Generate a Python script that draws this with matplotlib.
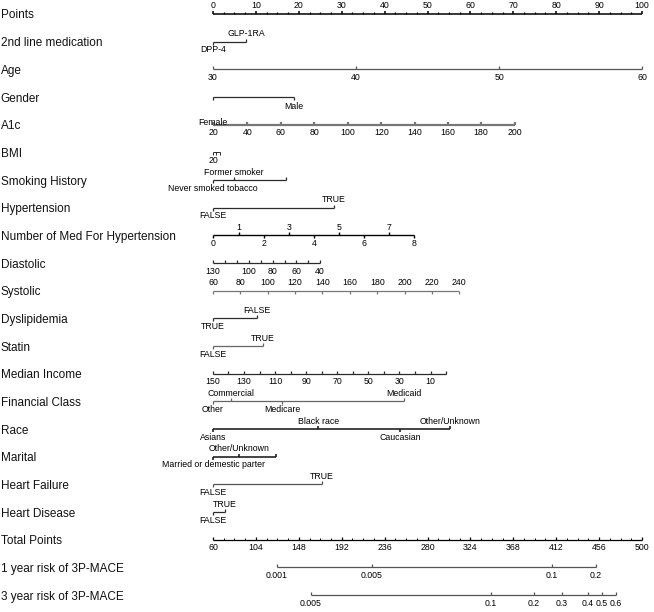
import numpy as np
import matplotlib.pyplot as plt

plt.rcParams['font.family'] = ['Liberation Sans', 'DejaVu Sans']

# row titles, top to bottom
row_names = ['Points', '2nd line medication', 'Age', 'Gender', 'A1c', 'BMI',
             'Smoking History', 'Hypertension', 'Number of Med For Hypertension',
             'Diastolic', 'Systolic', 'Dyslipidemia', 'Statin', 'Median Income',
             'Financial Class', 'Race', 'Marital', 'Heart Failure', 'Heart Disease',
             'Total Points', '1 year risk of 3P-MACE', '3 year risk of 3P-MACE']

# points scale
points_ticks = list(range(0, 101, 10))

# categorical predictors: levels and their points
med2_levels = ['DPP-4', 'GLP-1RA']
med2_pts = [0, 7.7]
gender_levels = ['Female', 'Male']
gender_pts = [0, 18.9]
smoke_levels = ['Never smoked tobacco', 'Former smoker', '']
smoke_pts = [0, 4.9, 17.0]
htn_levels = ['FALSE', 'TRUE']
htn_pts = [0, 28.2]
dys_levels = ['TRUE', 'FALSE']
dys_pts = [0, 10.2]
statin_levels = ['FALSE', 'TRUE']
statin_pts = [0, 11.7]
fin_levels = ['Other', 'Commercial', 'Medicare', 'Medicaid']
fin_pts = [0, 4.2, 16.1, 44.5]
race_levels = ['Asians', 'Black race', 'Caucasian', 'Other/Unknown']
race_pts = [0, 24.5, 43.6, 55.2]
marital_levels = ['Married or demestic parter', 'Other/Unknown', '']
marital_pts = [0, 6.1, 14.7]
hf_levels = ['FALSE', 'TRUE']
hf_pts = [0, 25.4]
hd_levels = ['FALSE', 'TRUE']
hd_pts = [0, 2.8]

# continuous predictors: tick values, their points, shown labels
age_vals = [30, 40, 50, 60]
age_pts = [0, 33.3, 66.7, 100]
a1c_vals = [20, 40, 60, 80, 100, 120, 140, 160, 180, 200]
a1c_pts = [0, 8.0, 15.8, 23.6, 31.5, 39.2, 47.1, 54.7, 62.5, 70.4]
bmi_vals = [20, 30, 40]
bmi_pts = [0, 0.8, 1.6]
bmi_labels = ['20', '', '']
nmed_vals = [0, 1, 2, 3, 4, 5, 6, 7, 8]
nmed_pts = [0, 6.1, 11.9, 17.8, 23.5, 29.4, 35.2, 41.0, 46.9]
dia_vals = [130, 120, 110, 100, 90, 80, 70, 60, 50, 40]
dia_pts = [0, 2.8, 5.5, 8.3, 11.1, 13.9, 16.7, 19.4, 22.2, 24.9]
dia_labels = ['130', '', '', '100', '', '80', '', '60', '', '40']
sys_vals = [60, 80, 100, 120, 140, 160, 180, 200, 220, 240]
sys_pts = [0, 6.4, 12.8, 19.1, 25.5, 31.9, 38.3, 44.7, 51.0, 57.4]
inc_vals = [150, 140, 130, 120, 110, 100, 90, 80, 70, 60, 50, 40, 30, 20, 10, 0]
inc_pts = [0, 3.6, 7.2, 10.9, 14.5, 18.1, 21.7, 25.3, 29.0, 32.6, 36.2, 39.8,
           43.4, 47.1, 50.7, 54.3]
inc_labels = ['150', '', '130', '', '110', '', '90', '', '70', '', '50', '',
              '30', '', '10', '']

# total points and risk scales
total_ticks = [60, 104, 148, 192, 236, 280, 324, 368, 412, 456, 500]
risk1_vals = ['0.001', '0.005', '0.1', '0.2']
risk1_total = [125.6, 223.0, 407.7, 452.8]
risk3_vals = ['0.005', '0.1', '0.2', '0.3', '0.4', '0.5', '0.6']
risk3_total = [160.5, 345.1, 389.2, 418.0, 444.6, 459.0, 473.3]


def total_to_points(t):
    return (np.asarray(t, dtype=float) - 60) / 440 * 100


fig = plt.figure(figsize=(6.54, 6.12), dpi=100)
ax = fig.add_axes([0, 0, 1, 1])
ax.set_xlim(-213 / 4.29, (654 - 213) / 4.29)
ax.set_ylim(612, 0)
ax.axis('off')

ROW0, STEP = 14, 27.67
TICK, OFF = 3, 8
FS, TFS = 8.5, 6.3
DARK = '#2b2b2b'


def row_y(i):
    return ROW0 + i * STEP


def cat_axis(i, pts, labels, sides, offs=None, color=DARK, lw=0.9):
    y = row_y(i)
    ax.hlines(y, min(pts), max(pts), color=color, lw=lw)
    for k, (p, lab, s) in enumerate(zip(pts, labels, sides)):
        sg = -1 if s == 'above' else 1
        ax.vlines(p, y, y + sg * TICK, color=color, lw=lw)
        d = OFF if offs is None else offs[k]
        ax.text(p, y + sg * d, lab, ha='center', va='center', fontsize=TFS)


def num_axis(i, pts, labels, label_side='below', tick_side='up',
             color=DARK, lw=0.9, minor=None):
    y = row_y(i)
    ax.hlines(y, min(pts), max(pts), color=color, lw=lw)
    ts = -1 if tick_side == 'up' else 1
    ls = -1 if label_side == 'above' else 1
    ax.vlines(pts, y, y + ts * TICK, color=color, lw=lw)
    if minor is not None:
        ax.vlines(minor, y, y + ts * TICK * 0.6, color=color, lw=lw * 0.8)
    for p, lab in zip(pts, labels):
        ax.text(p, y + ls * OFF, str(lab), ha='center', va='center', fontsize=TFS)


for i, name in enumerate(row_names):
    ax.text(-213 / 4.29 + 0.2, row_y(i) + 1.5, name, ha='left', va='center',
            fontsize=FS, color='#111111')

# Points
num_axis(0, points_ticks, points_ticks, label_side='above', tick_side='up',
         color='#000000', lw=1.1,
         minor=[v for v in np.arange(0, 100.1, 2.5) if v % 10])
cat_axis(1, med2_pts, med2_levels, ['below', 'above'])
num_axis(2, age_pts, age_vals, color='#555555')
cat_axis(3, gender_pts, gender_levels, ['below', 'below'], offs=[25, 9])
num_axis(4, a1c_pts, a1c_vals, color='#777777', lw=1.6)
num_axis(5, bmi_pts, bmi_labels, tick_side='down', lw=0.7)
cat_axis(6, smoke_pts, smoke_levels, ['below', 'above', 'above'])
cat_axis(7, htn_pts, htn_levels, ['below', 'above'])
y8 = row_y(8)
ax.hlines(y8, 0, max(nmed_pts), color='#000000', lw=1.0)
for v, p in zip(nmed_vals, nmed_pts):
    sg = -1 if v % 2 else 1
    ax.vlines(p, y8, y8 + sg * TICK, color='#000000', lw=1.0)
    ax.text(p, y8 + sg * OFF, str(v), ha='center', va='center', fontsize=TFS)
num_axis(9, dia_pts, dia_labels)
num_axis(10, sys_pts, sys_vals, label_side='above', tick_side='down', color='#777777')
cat_axis(11, dys_pts, dys_levels, ['below', 'above'])
cat_axis(12, statin_pts, statin_levels, ['below', 'above'], color='#666666')
num_axis(13, inc_pts, inc_labels)
cat_axis(14, fin_pts, fin_levels, ['below', 'above', 'below', 'above'], color='#666666')
cat_axis(15, race_pts, race_levels, ['below', 'above', 'below', 'above'], color='#111111', lw=1.1)
cat_axis(16, marital_pts, marital_levels, ['below', 'above', 'above'], color='#111111', lw=1.1)
cat_axis(17, hf_pts, hf_levels, ['below', 'above'], color='#555555')
cat_axis(18, hd_pts, hd_levels, ['below', 'above'])

# Total points
tminor = [v for v in np.arange(60, 500.1, 11) if (v - 60) % 44]
num_axis(19, total_to_points(total_ticks), total_ticks, color='#000000',
         minor=total_to_points(tminor))
num_axis(20, total_to_points(risk1_total), risk1_vals, color='#555555')
num_axis(21, total_to_points(risk3_total), risk3_vals, color='#555555')

fig.savefig('out.png', dpi=100)
